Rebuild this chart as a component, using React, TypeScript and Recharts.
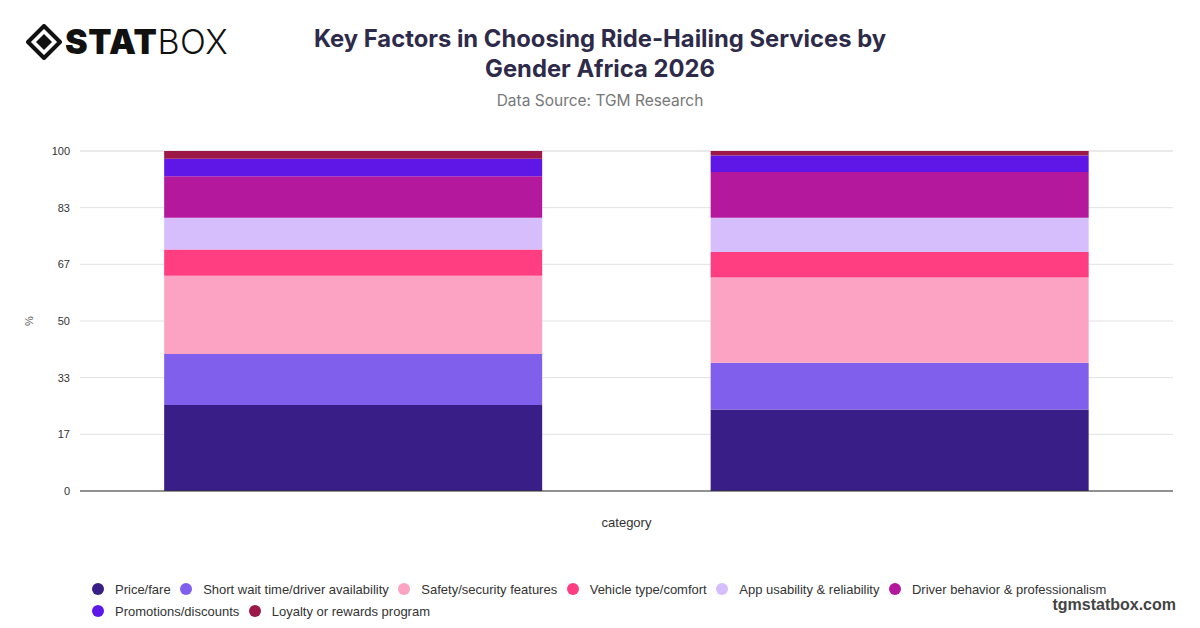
import { Bar, BarChart, CartesianGrid, XAxis, YAxis } from "recharts";

const categories = ["Male", "Female"];
const priceFare = [25.3, 24.0];
const shortWait = [15.0, 13.7];
const safety = [23.0, 25.1];
const vehicle = [7.7, 7.5];
const appUsability = [9.4, 10.1];
const driverBehavior = [12.2, 13.4];
const promotions = [5.1, 4.9];
const loyalty = [2.3, 1.3];
const yTicks = [0, 100 / 6, 200 / 6, 50, 400 / 6, 500 / 6, 100];

const series = [
  { key: "Price/fare", values: priceFare, color: "#381e86" },
  { key: "Short wait time/driver availability", values: shortWait, color: "#7f5fec" },
  { key: "Safety/security features", values: safety, color: "#fca3c3" },
  { key: "Vehicle type/comfort", values: vehicle, color: "#ff3e82" },
  { key: "App usability & reliability", values: appUsability, color: "#d6bdfb" },
  { key: "Driver behavior & professionalism", values: driverBehavior, color: "#b3189d" },
  { key: "Promotions/discounts", values: promotions, color: "#5f17e8" },
  { key: "Loyalty or rewards program", values: loyalty, color: "#9b1848" },
];

const rows = categories.map((c, i) => {
  const row: Record<string, string | number> = { category: c };
  series.forEach((s) => (row[s.key] = s.values[i]));
  return row;
});

function Logo() {
  return (
    <div style={{ position: "absolute", left: 26, top: 21, display: "flex", alignItems: "center" }}>
      <svg width="36" height="36" viewBox="0 0 36 36">
        <path d="M18 2 L34 18 L18 34 L2 18 Z" fill="none" stroke="#111" strokeWidth="4" strokeLinejoin="round" />
        <path d="M18 10 L26 18 L18 26 L10 18 Z" fill="#111" />
      </svg>
      <span style={{ fontFamily: "Inter", fontWeight: 900, fontSize: 34, color: "#111", marginLeft: 3, letterSpacing: 0.6 }}>
        STAT
      </span>
      <span style={{ fontFamily: "Inter", fontWeight: 300, fontSize: 34, color: "#111", letterSpacing: 0.4 }}>BOX</span>
    </div>
  );
}

export default function App() {
  return (
    <div
      style={{
        position: "fixed",
        left: 0,
        top: 0,
        width: 1200,
        height: 628,
        background: "#fff",
        overflow: "hidden",
      }}
    >
      <Logo />
      <div
        style={{
          position: "absolute",
          left: 0,
          width: 1200,
          top: 24,
          textAlign: "center",
          fontFamily: "Inter",
          fontWeight: 700,
          fontSize: 23.8,
          lineHeight: "30px",
          color: "#2e2b4a",
          paddingRight: 6,
        }}
      >
        Key Factors in Choosing Ride-Hailing Services by
        <br />
        Gender Africa 2026
      </div>
      <div
        style={{
          position: "absolute",
          left: 0,
          width: 1200,
          top: 91,
          textAlign: "center",
          fontFamily: "Inter",
          fontSize: 15.5,
          color: "#777",
          paddingRight: 4,
        }}
      >
        Data Source: TGM Research
      </div>

      <div style={{ position: "absolute", left: 0, top: 0 }}>
        <BarChart
          width={1200}
          height={540}
          data={rows}
          margin={{ top: 151, right: 27, left: 20, bottom: 9 }}
          barCategoryGap="15.4%"
        >
          <CartesianGrid vertical={false} stroke="#e2e2e2" />
          <XAxis
            dataKey="category"
            tick={false}
            tickLine={false}
            axisLine={{ stroke: "#333", strokeWidth: 1.2 }}
            height={40}
            label={{
              value: "category",
              position: "insideBottom",
              offset: 4,
              style: { fontFamily: "Liberation Sans, Arial", fontSize: 13, fill: "#333" },
            }}
          />
          <YAxis
            width={60}
            domain={[0, 100]}
            ticks={yTicks}
            tickFormatter={(v: number) => String(Math.round(v))}
            tickLine={false}
            axisLine={false}
            tickSize={8}
            tick={{ fontFamily: "Liberation Sans, Arial", fontSize: 11, fill: "#333" }}
            label={{
              value: "%",
              angle: -90,
              position: "insideLeft",
              offset: 9,
              style: { fontFamily: "Liberation Sans, Arial", fontSize: 11, fill: "#555", textAnchor: "middle" },
            }}
          />
          {series.map((s) => (
            <Bar key={s.key} dataKey={s.key} stackId="a" fill={s.color} isAnimationActive={false} />
          ))}
        </BarChart>
      </div>

      <div
        style={{
          position: "absolute",
          left: 92,
          top: 580,
          width: 1040,
          display: "flex",
          flexWrap: "wrap",
          rowGap: 4,
          fontFamily: "Liberation Sans, Arial",
          fontSize: 13,
          color: "#333",
        }}
      >
        {series.map((s) => (
          <div key={s.key} style={{ display: "flex", alignItems: "center", marginRight: 9.5, height: 18 }}>
            <span
              style={{
                width: 12,
                height: 12,
                borderRadius: 6,
                background: s.color,
                display: "inline-block",
                marginRight: 11,
              }}
            />
            <span>{s.key}</span>
          </div>
        ))}
      </div>

      <div
        style={{
          position: "absolute",
          right: 24,
          top: 596,
          fontFamily: "Liberation Sans, Arial",
          fontWeight: 700,
          fontSize: 16,
          color: "#444",
        }}
      >
        tgmstatbox.com
      </div>
    </div>
  );
}
